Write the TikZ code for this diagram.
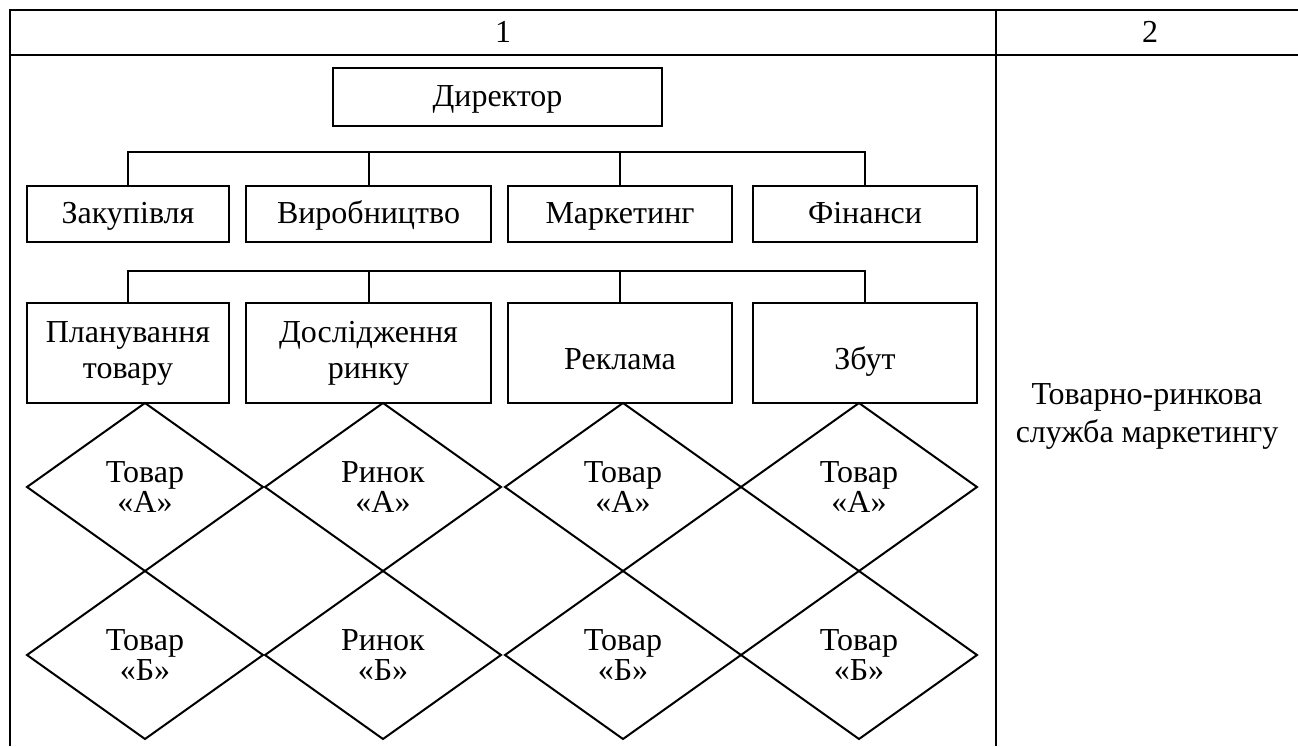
\documentclass[tikz,border=0pt]{standalone}
\usepackage{fontspec}
\setmainfont{Liberation Serif}
\usetikzlibrary{shapes.geometric}
\begin{document}
\begin{tikzpicture}[x=0.5pt,y=-0.5pt,line width=1pt,
  every node/.style={font=\fontsize{16}{18}\selectfont},
  box/.style={draw,inner sep=0pt,outer sep=0pt,align=center},
  oneline/.style={text height=12pt,text depth=3pt},
  lowline/.style={text height=19pt,text depth=3pt},
  rowone/.style={box,oneline,minimum height=28pt},
  rowtwo/.style={box,minimum height=50pt},
  rhomb/.style={draw,diamond,inner sep=0pt,outer sep=0pt,align=center,
    minimum width=118pt,minimum height=84pt,
    font=\fontsize{16}{15}\selectfont},
  plain/.style={align=center,inner sep=0pt}]
\useasboundingbox (0,0) rectangle (1298,746);
% table frame
\draw (10,746) -- (10,10) -- (1298,10);
\draw (10,55) -- (1298,55);
\draw (996,10) -- (996,746);
\node[plain] (h1) at (503,32) {1};
\node[plain] (h2) at (1150,32) {2};
% director
\node[box,oneline,minimum width=164.5pt,minimum height=29pt] (dir) at (497.5,97) {Директор};
% row 1
\node[rowone,minimum width=101pt] (z1) at (128,214) {Закупівля};
\node[rowone,minimum width=122.5pt] (z2) at (368.5,214) {Виробництво};
\node[rowone,minimum width=112pt] (z3) at (620,214) {Маркетинг};
\node[rowone,minimum width=112pt] (z4) at (865,214) {Фінанси};
\draw (z1.north) -- ++(0,-34) -| (z4.north);
\draw (z2.north) -- ++(0,-34);
\draw (z3.north) -- ++(0,-34);
% row 2
\node[rowtwo,minimum width=101pt] (p1) at (128,353) {Планування\\товару};
\node[rowtwo,minimum width=122.5pt] (p2) at (368.5,353) {Дослідження\\ринку};
\node[rowtwo,lowline,minimum width=112pt] (p3) at (620,353) {Реклама};
\node[rowtwo,lowline,minimum width=112pt] (p4) at (865,353) {Збут};
\draw (p1.north) -- ++(0,-32) -| (p4.north);
\draw (p2.north) -- ++(0,-32);
\draw (p3.north) -- ++(0,-32);
% diamonds
\node[rhomb] (a1) at (145,487) {Товар\\«А»};
\node[rhomb] (a2) at (383,487) {Ринок\\«А»};
\node[rhomb] (a3) at (623,487) {Товар\\«А»};
\node[rhomb] (a4) at (859,487) {Товар\\«А»};
\node[rhomb] (b1) at (145,655) {Товар\\«Б»};
\node[rhomb] (b2) at (383,655) {Ринок\\«Б»};
\node[rhomb] (b3) at (623,655) {Товар\\«Б»};
\node[rhomb] (b4) at (859,655) {Товар\\«Б»};
% right column
\node[plain,font=\fontsize{16}{19}\selectfont] (svc) at (1147,416) {Товарно-ринкова\\служба маркетингу};
\end{tikzpicture}
\end{document}
